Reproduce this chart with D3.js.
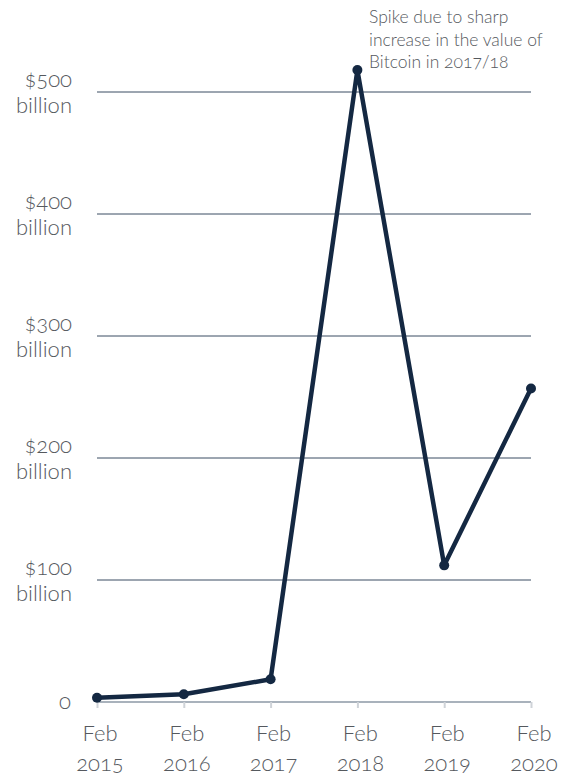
<!DOCTYPE html>
<html><head><meta charset="utf-8">
<script src="https://cdn.jsdelivr.net/npm/d3@7"></script>
<style>
body{margin:0;background:#fff;}
text{font-family:Lato,"Open Sans",sans-serif;font-weight:300;fill:#55595e;font-feature-settings:"onum" 1;font-variant-numeric:oldstyle-nums;}
</style></head>
<body><svg id="c" width="575" height="775"></svg>
<script>
const categories = ["Feb 2015","Feb 2016","Feb 2017","Feb 2018","Feb 2019","Feb 2020"];
const values = [3.5, 6.3, 18.6, 518, 112, 257];
const yTicks = [0, 100, 200, 300, 400, 500];
const yTickLabels = ["0", "$100 billion", "$200 billion", "$300 billion", "$400 billion", "$500 billion"];
const annotation = ["Spike due to sharp", "increase in the value of", "Bitcoin in 2017/18"];

const svg = d3.select("#c");
const x = d3.scalePoint().domain(categories).range([97, 531]);
const y = d3.scaleLinear().domain([0, 500]).range([702, 92]);

// gridlines
svg.append("g").selectAll("line").data(yTicks.filter(d=>d>0)).join("line")
  .attr("x1", 97).attr("x2", 531)
  .attr("y1", d=>y(d)).attr("y2", d=>y(d))
  .attr("stroke", "#3a4c63").attr("stroke-width", 1);

// x axis
const xAxis = svg.append("g").attr("transform", `translate(0,${y(0)})`)
  .call(d3.axisBottom(x).tickSize(6).tickFormat(""));
xAxis.select(".domain").attr("stroke", "#8d99a6").attr("stroke-width", 1.5).attr("d", `M97,0H531`);
xAxis.selectAll(".tick line").attr("stroke", "#cfd3d8").attr("stroke-width", 2);

// x labels
const xl = svg.append("g").selectAll("text").data(categories).join("text")
  .attr("text-anchor", "middle").attr("font-size", 22);
xl.append("tspan").attr("x", d=>x(d)+3).attr("y", 741).text(d=>d.split(" ")[0]);
xl.append("tspan").attr("x", d=>x(d)+3).attr("y", 771).text(d=>d.split(" ")[1]);

// y labels
const yl = svg.append("g").selectAll("text").data(yTicks).join("text")
  .attr("text-anchor", "end").attr("font-size", 22);
yl.each(function(d, i){
  const t = d3.select(this);
  const parts = yTickLabels[i].split(" ");
  if (parts.length === 1) {
    t.append("tspan").attr("x", 71).attr("y", y(d)+7).text(parts[0]);
  } else {
    t.append("tspan").attr("x", 72).attr("y", y(d)-5).text(parts[0]);
    t.append("tspan").attr("x", 72).attr("y", y(d)+21).text(parts[1]);
  }
});

// line
const pts = categories.map((c,i)=>[x(c), y(values[i])]);
svg.append("path").datum(pts)
  .attr("d", d3.line())
  .attr("fill", "none").attr("stroke", "#142842").attr("stroke-width", 4.5)
  .attr("stroke-linejoin", "round");
svg.append("g").selectAll("circle").data(pts).join("circle")
  .attr("cx", d=>d[0]).attr("cy", d=>d[1]).attr("r", 5).attr("fill", "#142842");

// annotation
const an = svg.append("text").attr("font-size", 17.5);
annotation.forEach((l,i)=>an.append("tspan").attr("x", 369).attr("y", 23 + i*22.5).text(l));
</script></body></html>
